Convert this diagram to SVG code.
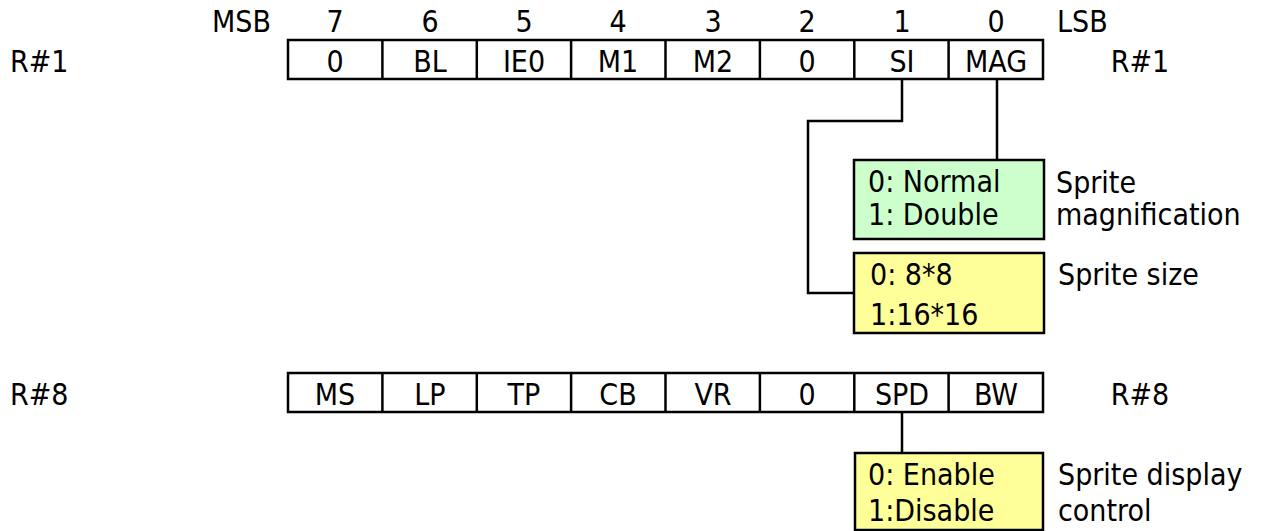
<svg xmlns="http://www.w3.org/2000/svg" width="1264" height="531" viewBox="0 0 1264 531">
<style>
text{font-family:"DejaVu Sans Condensed","DejaVu Sans",sans-serif;font-stretch:condensed;font-size:30px;fill:#000}
.c{text-anchor:middle}
.cell{fill:#fff;stroke:#000;stroke-width:2.5}
.ln{fill:none;stroke:#000;stroke-width:2.5}
.g{fill:#ccffcc;stroke:#000;stroke-width:2.5}
.y{fill:#ffff99;stroke:#000;stroke-width:2.5}
</style>
<rect width="1264" height="531" fill="#fff"/>
<g id="bits">
<text x="271" y="32" text-anchor="end">MSB</text>
<text class="c" x="335" y="32">7</text>
<text class="c" x="430" y="32">6</text>
<text class="c" x="524" y="32">5</text>
<text class="c" x="618" y="32">4</text>
<text class="c" x="713" y="32">3</text>
<text class="c" x="807" y="32">2</text>
<text class="c" x="902" y="32">1</text>
<text class="c" x="996" y="32">0</text>
<text x="1057" y="32">LSB</text>
</g>
<g id="r1">
<text x="10" y="72">R#1</text>
<text class="c" x="1140" y="72">R#1</text>
<rect class="cell" x="288" y="40" width="755" height="39"/>
<path class="ln" d="M382.4 40V79M476.8 40V79M571.1 40V79M665.5 40V79M759.9 40V79M854.3 40V79M948.6 40V79"/>
<text class="c" x="335" y="72">0</text>
<text class="c" x="430" y="72">BL</text>
<text class="c" x="524" y="72">IE0</text>
<text class="c" x="618" y="72">M1</text>
<text class="c" x="713" y="72">M2</text>
<text class="c" x="807" y="72">0</text>
<text class="c" x="902" y="72">SI</text>
<text class="c" x="996" y="72">MAG</text>
</g>
<g id="r8">
<text x="10" y="405">R#8</text>
<text class="c" x="1140" y="405">R#8</text>
<rect class="cell" x="288" y="373" width="755" height="39"/>
<path class="ln" d="M382.4 373V412M476.8 373V412M571.1 373V412M665.5 373V412M759.9 373V412M854.3 373V412M948.6 373V412"/>
<text class="c" x="335" y="405">MS</text>
<text class="c" x="430" y="405">LP</text>
<text class="c" x="524" y="405">TP</text>
<text class="c" x="618" y="405">CB</text>
<text class="c" x="713" y="405">VR</text>
<text class="c" x="807" y="405">0</text>
<text class="c" x="902" y="405">SPD</text>
<text class="c" x="996" y="405">BW</text>
</g>
<g id="connectors">
<path class="ln" d="M902 79V121H808V293H854"/>
<path class="ln" d="M997 79V160"/>
<path class="ln" d="M902 412V453"/>
</g>
<g id="mag">
<rect class="g" x="854" y="160" width="190" height="79"/>
<text x="868" y="192">0: Normal</text>
<text x="868" y="225">1: Double</text>
<text x="1056" y="193">Sprite</text>
<text x="1056" y="225">magnification</text>
</g>
<g id="size">
<rect class="y" x="854" y="253" width="190" height="80"/>
<text x="870" y="285">0: 8*8</text>
<text x="870" y="325">1:16*16</text>
<text x="1058" y="285">Sprite size</text>
</g>
<g id="spd">
<rect class="y" x="855" y="453" width="188" height="77"/>
<text x="868" y="485">0: Enable</text>
<text x="868" y="521">1:Disable</text>
<text x="1058" y="485">Sprite display</text>
<text x="1058" y="521">control</text>
</g>
</svg>
